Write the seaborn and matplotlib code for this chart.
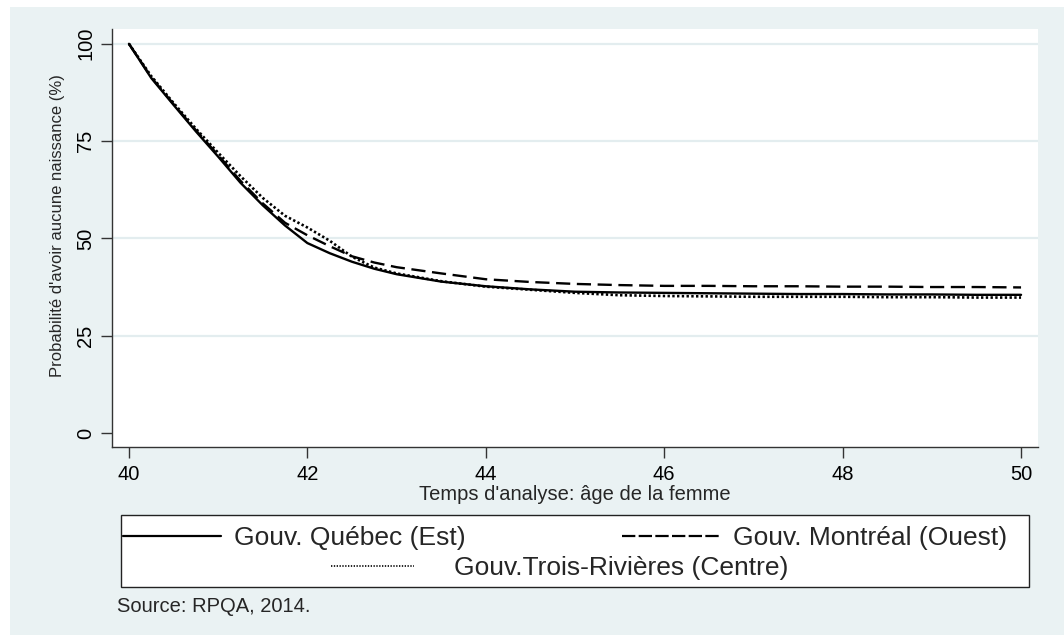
import numpy as np
import pandas as pd
import matplotlib
matplotlib.use("Agg")
import matplotlib.pyplot as plt
from matplotlib.patches import Rectangle
from matplotlib.lines import Line2D
import seaborn as sns

# ---------------- data ----------------
age = [40.0, 40.25, 40.5, 40.75, 41.0, 41.25, 41.5, 41.75, 42.0, 42.25,
       42.5, 42.75, 43.0, 43.5, 44.0, 44.5, 45.0, 45.5, 46.0, 46.5,
       47.0, 47.5, 48.0, 48.5, 49.0, 49.5, 50.0]
quebec = [100, 91.2, 84.3, 77.5, 71.0, 64.3, 58.5, 53.3, 48.8, 46.2,
          44.0, 42.2, 40.8, 38.9, 37.7, 36.9, 36.3, 36.1, 36.0, 35.9,
          35.8, 35.7, 35.7, 35.6, 35.6, 35.5, 35.5]
montreal = [100, 91.4, 84.5, 77.8, 71.4, 64.8, 59.0, 54.0, 50.8, 48.0,
            45.4, 43.8, 42.6, 41.0, 39.5, 38.8, 38.3, 38.0, 37.8, 37.8,
            37.7, 37.7, 37.6, 37.6, 37.5, 37.5, 37.4]
trois_rivieres = [100, 91.7, 84.8, 78.2, 72.0, 66.0, 60.4, 55.8, 52.8, 49.4,
                  45.3, 42.5, 41.0, 39.0, 37.6, 36.8, 36.0, 35.4, 35.2, 35.1,
                  35.0, 35.0, 35.0, 34.9, 34.9, 34.8, 34.8]

labels = ["Gouv. Québec (Est)", "Gouv. Montréal (Ouest)", "Gouv.Trois-Rivières (Centre)"]
xticks = [40, 42, 44, 46, 48, 50]
yticks = [0, 25, 50, 75, 100]

# ---------------- style ----------------
sns.set_theme(style="white")
plt.rcParams["font.family"] = ["Liberation Sans", "DejaVu Sans"]

W, H = 1064, 635
fig = plt.figure(figsize=(W / 100, H / 100), dpi=100, facecolor="white")

BG = "#EAF2F3"
fig.add_artist(Rectangle((10 / W, 0), (W - 10) / W, (H - 7) / H,
                         transform=fig.transFigure, facecolor=BG,
                         edgecolor="none", zorder=-10))

ax = fig.add_axes([112 / W, 1 - 447 / H, (1038 - 112) / W, (447 - 29) / H])
ax.set_facecolor("white")

LW = 1.7
sns.lineplot(x=age, y=quebec, ax=ax, color="black", linewidth=LW, sort=True)
sns.lineplot(x=age, y=montreal, ax=ax, color="black", linewidth=LW, sort=True)
ax.lines[-1].set_dashes((6, 2.8))
sns.lineplot(x=age, y=trois_rivieres, ax=ax, color="black", linewidth=1.9, sort=True)
ax.lines[-1].set_dashes((0.9, 0.9))

ax.set_xlim(39.81, 50.19)
ax.set_ylim(-3.6, 103.8)
ax.set_xticks(xticks)
ax.set_yticks(yticks)
ax.set_xticklabels([str(t) for t in xticks])
ax.set_yticklabels([str(t) for t in yticks], rotation=90, va="center")

for s in ["top", "right"]:
    ax.spines[s].set_visible(False)
for s in ["left", "bottom"]:
    ax.spines[s].set_color("#333333")
    ax.spines[s].set_linewidth(1.0)

ax.tick_params(axis="both", which="major", direction="out", length=8,
               width=1.0, color="#333333", labelsize=14.5, labelcolor="black",
               left=True, bottom=True)
ax.tick_params(axis="y", pad=4)
ax.tick_params(axis="x", pad=5)

ax.yaxis.grid(True, color="#E3EDEF", linewidth=1.6)
ax.xaxis.grid(False)
ax.get_ygridlines()[0].set_visible(False)
ax.set_axisbelow(True)

ax.set_xlabel("Temps d'analyse: âge de la femme", fontsize=14.5, labelpad=1)
ax.set_ylabel("Probabilité d'avoir aucune naissance (%)", fontsize=12)
ax.yaxis.set_label_coords(-0.051, 0.53)

# ---------------- legend ----------------
fig.add_artist(Rectangle((121 / W, 1 - 587 / H), (1029 - 121) / W, (587 - 515) / H,
                         transform=fig.transFigure, facecolor="white",
                         edgecolor="#222222", linewidth=1.0, zorder=5))

h_solid = Line2D([], [], color="black", linewidth=1.6)
h_dash = Line2D([], [], color="black", linewidth=1.6, dashes=(6, 1.5))
h_dot = Line2D([], [], color="black", linewidth=1.2, dashes=(0.8, 0.9))

leg1 = fig.legend([h_solid, h_dash], labels[:2], ncol=2, frameon=False,
                  loc="center left", bbox_to_anchor=(123 / W, 1 - 538 / H),
                  fontsize=19, handlelength=3.7, handletextpad=0.5,
                  columnspacing=5.95, borderpad=0, borderaxespad=0)
leg1.set_zorder(6)
leg2 = fig.legend([h_dot], labels[2:], frameon=False,
                  loc="center left", bbox_to_anchor=(331 / W, 1 - 568 / H),
                  fontsize=19, handlelength=3.15, handletextpad=1.5,
                  borderpad=0, borderaxespad=0)
leg2.set_zorder(6)

fig.text(117 / W, 1 - 606 / H, "Source: RPQA, 2014.", fontsize=14.5,
         ha="left", va="center")

fig.savefig("out.png", dpi=100, facecolor=fig.get_facecolor())
